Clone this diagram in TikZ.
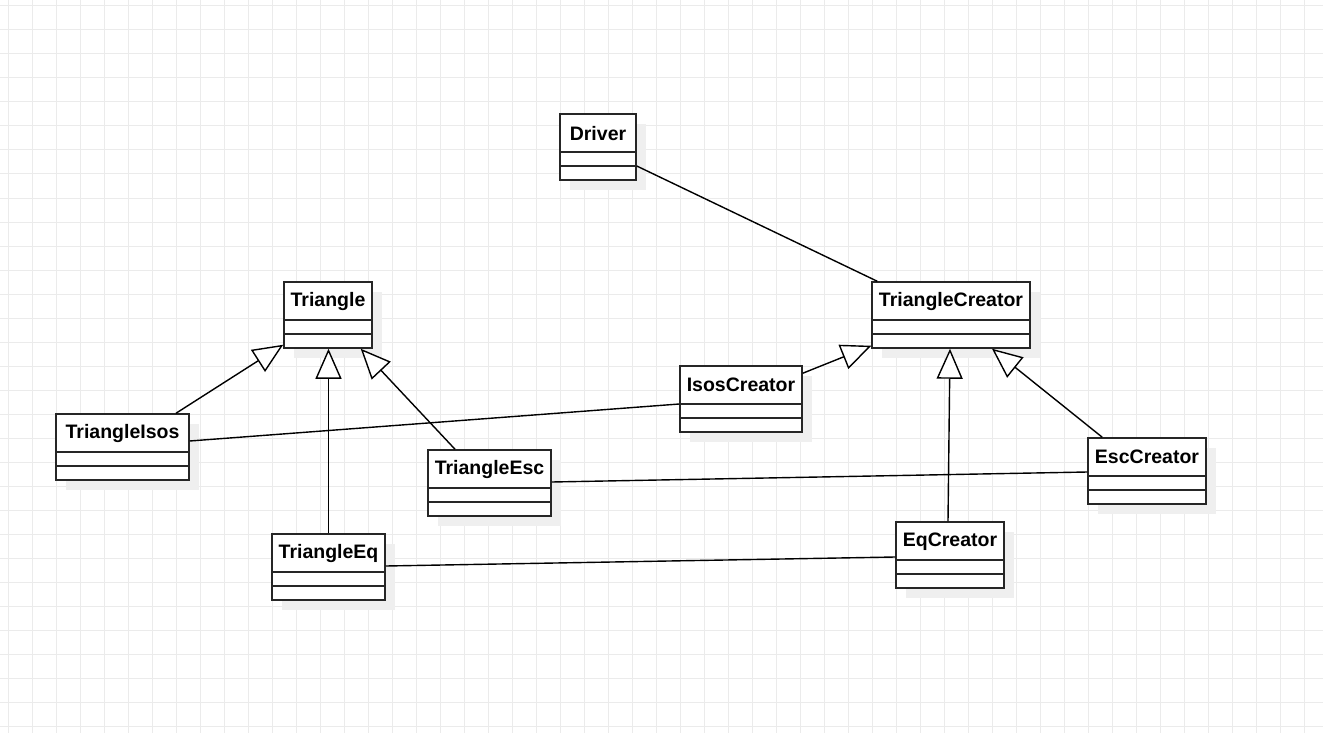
\documentclass[tikz,border=0pt]{standalone}
\usepackage{fontspec}
\setmainfont{Liberation Sans}
\usetikzlibrary{arrows.meta,shadows}
\definecolor{gridgray}{HTML}{EBEBEB}
\definecolor{shadowgray}{HTML}{EFEFEF}
\begin{document}
\begin{tikzpicture}[x=1pt,y=-1pt,
  gridline/.style={draw=gridgray, line width=1pt},
  umlclass/.style={draw=black!85, fill=white, line width=1.5pt, inner sep=0pt,
    minimum height=66pt,
    drop shadow={fill=shadowgray, opacity=1, shadow xshift=10pt, shadow yshift=-10pt},
    path picture={
      \draw[line width=1.4pt, black!85]
        ([yshift=-38pt]path picture bounding box.north west) --
        ([yshift=-38pt]path picture bounding box.north east)
        ([yshift=-52pt]path picture bounding box.north west) --
        ([yshift=-52pt]path picture bounding box.north east);}},
  classname/.style={font=\fontsize{19.5}{22}\selectfont\bfseries, anchor=center, yshift=-20pt},
  assoc/.style={draw=black, line width=1.4pt},
  inherit/.style={draw=black, line width=1.4pt,
    -{Triangle[open, length=30pt, width=26pt, fill=white]}}
]
\useasboundingbox (0,0) rectangle (1323,733);
\fill[white] (0,0) rectangle (1323,733);
% background grid
\foreach \gx in {8,32,...,1322} \draw[gridline] (\gx,0) -- (\gx,733);
\foreach \gy in {6,30,...,732} \draw[gridline] (0,\gy) -- (1323,\gy);

% classes
\node[umlclass, minimum width=76pt,  label={[classname]north:Driver}]          (driver) at (598,147) {};
\node[umlclass, minimum width=88pt,  label={[classname]north:Triangle}]        (tri)    at (328,315) {};
\node[umlclass, minimum width=158pt, label={[classname]north:TriangleCreator}] (tc)     at (951,315) {};
\node[umlclass, minimum width=122pt, label={[classname]north:IsosCreator}]     (ic)     at (741,399) {};
\node[umlclass, minimum width=133pt, label={[classname]north:TriangleIsos}]    (ti)     at (122.5,447) {};
\node[umlclass, minimum width=123pt, label={[classname]north:TriangleEsc}]     (tesc)   at (489.5,483) {};
\node[umlclass, minimum width=113pt, label={[classname]north:TriangleEq}]      (teq)    at (328.5,567) {};
\node[umlclass, minimum width=118pt, label={[classname]north:EscCreator}]      (esc)    at (1147,471) {};
\node[umlclass, minimum width=108pt, label={[classname]north:EqCreator}]       (eqc)    at (950,555) {};

% associations
\draw[assoc] ([yshift=-19pt]driver.east) -- ([xshift=6pt]tc.north west);
\draw[assoc] ([yshift=6pt]ti.east) -- ([yshift=-5pt]ic.west);
\draw[assoc] ([yshift=1pt]tesc.east) -- ([yshift=-1pt]esc.west);
\draw[assoc] ([yshift=1pt]teq.east) -- ([yshift=-2pt]eqc.west);

% generalisations
\draw[inherit] ([xshift=53.5pt]ti.north) -- ([yshift=4pt]tri.south west);
\draw[inherit] (teq.north) -- (teq.north |- tri.south);
\draw[inherit] ([xshift=-34.5pt]tesc.north) -- ([xshift=-12pt]tri.south east);
\draw[inherit] ([yshift=-8pt]ic.north east) -- ([yshift=3pt]tc.south west);
\draw[inherit] ([xshift=-2pt]eqc.north) -- ([xshift=-1pt]tc.south);
\draw[inherit] ([xshift=15pt]esc.north west) -- ([xshift=41pt]tc.south);
\end{tikzpicture}
\end{document}
